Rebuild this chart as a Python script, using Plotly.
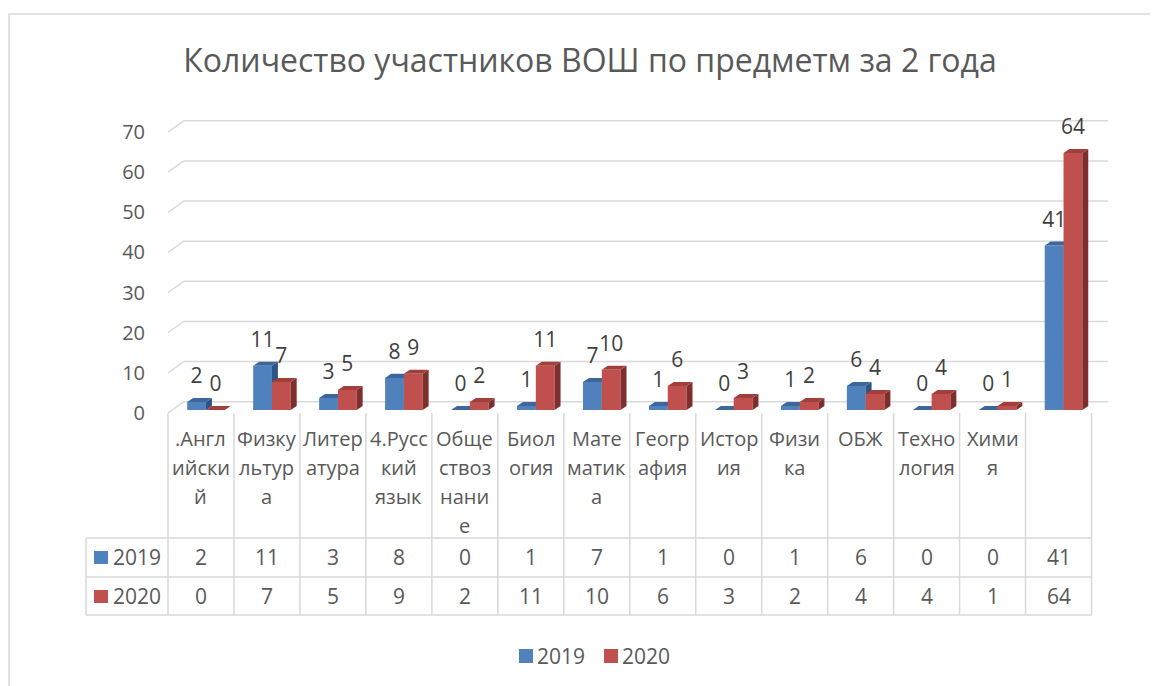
import plotly.graph_objects as go

# ---------------- data ----------------
category_lines = [
    [".Англ", "ийски", "й"],
    ["Физку", "льтур", "а"],
    ["Литер", "атура"],
    ["4.Русс", "кий", "язык"],
    ["Обще", "ствоз", "нани", "е"],
    ["Биол", "огия"],
    ["Мате", "матик", "а"],
    ["Геогр", "афия"],
    ["Истор", "ия"],
    ["Физи", "ка"],
    ["ОБЖ"],
    ["Техно", "логия"],
    ["Хими", "я"],
    [""],
]
categories = ["".join(l) for l in category_lines]
series_names = ["2019", "2020"]
values_2019 = [2, 11, 3, 8, 0, 1, 7, 1, 0, 1, 6, 0, 0, 41]
values_2020 = [0, 7, 5, 9, 2, 11, 10, 6, 3, 2, 4, 4, 1, 64]
y_ticks = [0, 10, 20, 30, 40, 50, 60, 70]
title_text = "Количество участников ВОШ по предметм за 2 года"

# ---------------- style / layout ----------------
OFF = 8                      # page body margin of the html page
W, H = 1158 - OFF, 686 - OFF
ML, MT = 168 - OFF, 118 - OFF
PW, PH = 940, 297
MR, MB = W - ML - PW, H - MT - PH
X0, X1 = -0.5, 13.75
Y0, Y1 = -0.5, 73.5
FONT = "Open Sans"
TXT = "#595959"
LBL = "#404040"
GRID = "#d9d9d9"
CAT_SIZE = 20
NUM_SIZE = 21

colors = {
    "2019": dict(front="#4F81BD", side="#2E5485", top="#3C679C"),
    "2020": dict(front="#C0504D", side="#7E2E2C", top="#A13F3C"),
}
bar_w = 0.285
offsets = {"2019": 0.076 - bar_w, "2020": 0.076}
base = 0.75
dx, dy = 0.09, 1.0           # bar depth projection
wall_dx, wall_dy = 0.24, 2.8  # back wall projection


def px2x(px):
    """screen x pixel -> paper x"""
    return (px - OFF - ML) / PW


def py2y(py):
    """screen y pixel -> paper y"""
    return (MT + PH - (py - OFF)) / PH


def dx2paper(x):
    return (x - X0) / (X1 - X0)


fig = go.Figure()

series = [("2019", values_2019, "x", "y"), ("2020", values_2020, "x2", "y2")]
for name, vals, xa, ya in series:
    c = colors[name]
    o = offsets[name]
    xs = [i for i in range(len(vals))]
    fig.add_trace(go.Bar(
        x=xs, y=vals, base=base, offset=o, width=bar_w, name=name,
        marker=dict(color=c["front"], line=dict(width=0)),
        xaxis=xa, yaxis=ya, hoverinfo="skip", showlegend=False,
    ))
    sx, sy, tx, ty = [], [], [], []
    for i, v in enumerate(vals):
        x0 = i + o
        x1 = x0 + bar_w
        top = base + v
        sx += [x1, x1, x1 + dx, x1 + dx, x1, None]
        sy += [base, top, top + dy, base + dy, base, None]
        tx += [x0, x1, x1 + dx, x0 + dx, x0, None]
        ty += [top, top, top + dy, top + dy, top, None]
    fig.add_trace(go.Scatter(x=sx, y=sy, mode="lines", fill="toself",
                             fillcolor=c["side"], line=dict(width=0),
                             showlegend=False, hoverinfo="skip",
                             xaxis=xa, yaxis=ya))
    fig.add_trace(go.Scatter(x=tx, y=ty, mode="lines", fill="toself",
                             fillcolor=c["top"], line=dict(width=0),
                             showlegend=False, hoverinfo="skip",
                             xaxis=xa, yaxis=ya))

# data labels
for name, vals, _, _ in series:
    o = offsets[name]
    fig.add_trace(go.Scatter(
        x=[i + o + bar_w / 2 for i in range(len(vals))],
        y=[base + v + 6 for v in vals],
        text=[str(v) for v in vals], mode="text",
        textfont=dict(family=FONT, size=NUM_SIZE, color=LBL),
        showlegend=False, hoverinfo="skip", cliponaxis=False,
        xaxis="x2", yaxis="y2",
    ))

shapes = []
# back wall gridlines with perspective slant
for v in y_ticks:
    shapes.append(dict(type="line", xref="x", yref="y", layer="below",
                       x0=X0, y0=v, x1=X0 + wall_dx, y1=v + wall_dy,
                       line=dict(color=GRID, width=1.5)))
    shapes.append(dict(type="line", xref="x", yref="y", layer="below",
                       x0=X0 + wall_dx, y0=v + wall_dy, x1=X1, y1=v + wall_dy,
                       line=dict(color=GRID, width=1.5)))

# data table grid (screen pixel rows)
n = len(categories)
row_top, row1, row2, row_bot = 413, 538, 577, 615
for k in range(n + 1):
    xp = dx2paper(k - 0.5)
    shapes.append(dict(type="line", xref="paper", yref="paper",
                       x0=xp, x1=xp, y0=py2y(row_top), y1=py2y(row_bot),
                       line=dict(color=GRID, width=1.5)))
for r in (row1, row2, row_bot):
    shapes.append(dict(type="line", xref="paper", yref="paper",
                       x0=px2x(86), x1=dx2paper(n - 0.5),
                       y0=py2y(r), y1=py2y(r),
                       line=dict(color=GRID, width=1.5)))
shapes.append(dict(type="line", xref="paper", yref="paper",
                   x0=px2x(86), x1=px2x(86), y0=py2y(row1), y1=py2y(row_bot),
                   line=dict(color=GRID, width=1.5)))
# legend keys in table
for name, (ya, yb) in zip(series_names, [(551, 564), (590, 603)]):
    shapes.append(dict(type="rect", xref="paper", yref="paper",
                       x0=px2x(94), x1=px2x(108), y0=py2y(yb), y1=py2y(ya),
                       fillcolor=colors[name]["front"], line=dict(width=0)))
# bottom legend keys
for name, kx in zip(series_names, (519, 604)):
    shapes.append(dict(type="rect", xref="paper", yref="paper",
                       x0=px2x(kx), x1=px2x(kx + 14), y0=py2y(663), y1=py2y(649),
                       fillcolor=colors[name]["front"], line=dict(width=0)))
# outer chart border
shapes.append(dict(type="rect", xref="paper", yref="paper",
                   x0=px2x(9), x1=px2x(1158 + 20), y0=py2y(686 + 20), y1=py2y(14),
                   line=dict(color=GRID, width=1.5), fillcolor="rgba(0,0,0,0)"))

annotations = []
for i, lines in enumerate(category_lines):
    for k, t in enumerate(lines):
        if not t:
            continue
        annotations.append(dict(x=i, xref="x", y=py2y(438 + 29 * k), yref="paper",
                                text=t, showarrow=False, xanchor="center",
                                yanchor="middle",
                                font=dict(family=FONT, size=CAT_SIZE, color=TXT)))
for vals, py in ((values_2019, 557), (values_2020, 596)):
    for i, v in enumerate(vals):
        annotations.append(dict(x=i, xref="x", y=py2y(py), yref="paper",
                                text=str(v), showarrow=False, xanchor="center",
                                yanchor="middle",
                                font=dict(family=FONT, size=NUM_SIZE, color=TXT)))
for name, py in zip(series_names, (557, 596)):
    annotations.append(dict(x=px2x(111), xref="paper", y=py2y(py), yref="paper",
                            text=name, showarrow=False, xanchor="left",
                            yanchor="middle",
                            font=dict(family=FONT, size=NUM_SIZE, color=TXT)))
for name, tx in zip(series_names, (535, 620)):
    annotations.append(dict(x=px2x(tx), xref="paper", y=py2y(656), yref="paper",
                            text=name, showarrow=False, xanchor="left",
                            yanchor="middle",
                            font=dict(family=FONT, size=NUM_SIZE, color=TXT)))

fig.update_layout(
    width=W, height=H,
    margin=dict(l=ML, r=MR, t=MT, b=MB, autoexpand=False),
    paper_bgcolor="white", plot_bgcolor="white",
    barmode="overlay",
    title=dict(text=title_text, x=(590 - OFF) / W, xref="container", xanchor="center",
               y=1 - (61 - OFF) / H, yref="container", yanchor="middle",
               font=dict(family=FONT, size=32, color=TXT)),
    xaxis=dict(range=[X0, X1], visible=False, fixedrange=True),
    xaxis2=dict(range=[X0, X1], visible=False, overlaying="x", matches="x"),
    yaxis=dict(range=[Y0, Y1], tickvals=y_ticks, showgrid=False, zeroline=False,
               showline=False, ticks="outside", ticklen=18,
               tickcolor="rgba(0,0,0,0)",
               tickfont=dict(family=FONT, size=20, color=TXT)),
    yaxis2=dict(range=[Y0, Y1], visible=False, overlaying="y", matches="y"),
    showlegend=False,
    shapes=shapes, annotations=annotations,
    font=dict(family=FONT, color=TXT),
)

fig.write_html("out.html")
